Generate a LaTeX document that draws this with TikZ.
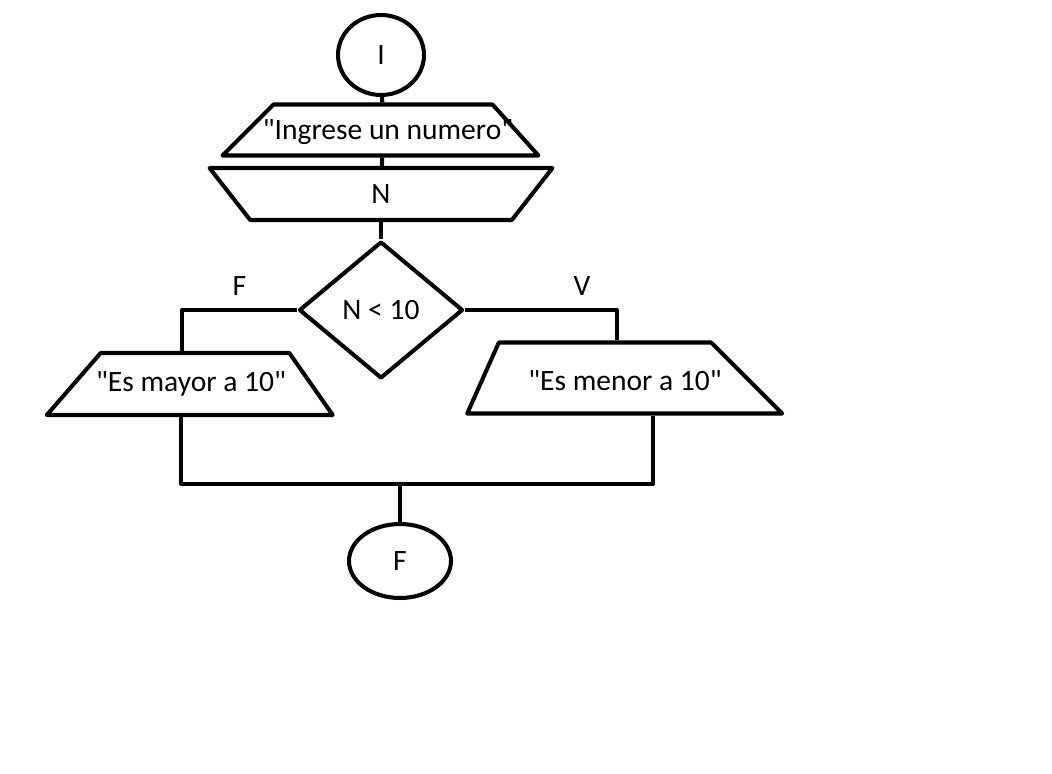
\documentclass[tikz,border=0pt]{standalone}
\usepackage{fontspec}
\setmainfont{Carlito}[Ligatures=TeXOff]
\usetikzlibrary{shapes.geometric}
\tikzset{
    every node/.style={
        font=\fontsize{16.8}{20}\selectfont},
    terminal/.style={
        ellipse,
        draw,
        inner sep=0pt},
    iobox/.style={
        trapezium,
        draw,
        trapezium stretches body,
        text width=0pt,
        text depth=0pt,
        inner sep=0pt},
    decision/.style={
        diamond,
        draw,
        inner sep=0pt}}

\begin{document}
\begin{tikzpicture}[x=0.02cm, y=-0.02cm, line width=2.3pt, line join=round]
    \useasboundingbox (0,0) rectangle (1052,774);
    \node[terminal, minimum width=1.72cm, minimum height=1.6cm] (ini) at (381,55) {I};
    \node[iobox, trapezium left angle=45, trapezium right angle=48, text height=1.02cm, minimum width=6.32cm, label={[xshift=0.1cm, yshift=-0.04cm]center:"Ingrese un numero"}] (msg) at (383,130) {};
    \node[iobox, shape border rotate=180, trapezium left angle=52, trapezium right angle=52, text height=1.04cm, minimum width=6.86cm, label=center:{N}] (leer) at (381,194) {};
    \node[decision, minimum width=3.28cm, minimum height=2.74cm] (cond) at (381,310) {N < 10};
    \node[iobox, trapezium left angle=49, trapezium right angle=55, text height=1.24cm, minimum width=5.72cm, label={[xshift=-0.08cm]center:"Es mayor a 10"}] (mayor) at (195,384) {};
    \node[iobox, trapezium left angle=66, trapezium right angle=45, text height=1.42cm, minimum width=6.3cm, label={[xshift=0.4cm, yshift=-0.06cm]center:"Es menor a 10"}] (menor) at (605,378) {};
    \node[terminal, minimum width=2.04cm, minimum height=1.48cm] (fin) at (400,561) {F};
    \coordinate (union) at (400,484);
    \draw (ini) -- (msg);
    \draw (msg) -- (leer);
    \draw (leer) -- (cond);
    \draw (cond.west) -| node[pos=0.25, above=4pt] (lblF) {F} ([xshift=-0.26cm]mayor.north);
    \draw (cond.east) -| node[pos=0.385, above=4pt] (lblV) {V} ([xshift=0.24cm]menor.north);
    \draw ([xshift=-0.28cm]mayor.south) |- (union) -| ([xshift=0.96cm]menor.south);
    \draw (union) -- (fin);
\end{tikzpicture}
\end{document}
